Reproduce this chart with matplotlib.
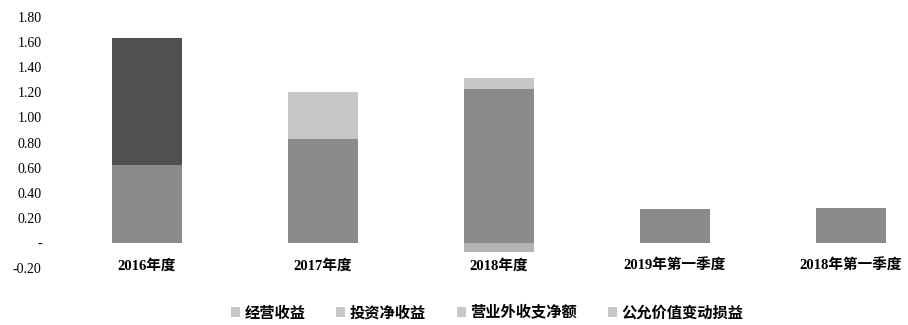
import numpy as np
import matplotlib.pyplot as plt
from matplotlib.patches import Patch

# 收益构成（单位：亿元）
categories = ["2016年度", "2017年度", "2018年度", "2019年第一季度", "2018年第一季度"]
series_names = ["经营收益", "投资净收益", "营业外收支净额", "公允价值变动损益"]
operating = [0.62, 0.83, 1.23, 0.27, 0.28]
investment = [1.01, 0.00, 0.00, 0.00, 0.00]
non_operating = [0.00, 0.00, -0.07, 0.00, 0.00]
fair_value = [0.00, 0.37, 0.08, 0.00, 0.00]
y_ticks = [-0.20, 0.0, 0.20, 0.40, 0.60, 0.80, 1.00, 1.20, 1.40, 1.60, 1.80]

colors = ["#8a8a8a", "#505050", "#b4b4b4", "#c6c6c6"]
serif_cjk = ["Liberation Serif", "Noto Sans CJK SC"]

fig = plt.figure(figsize=(9.08, 3.25), dpi=100)
ax = fig.add_axes([59 / 908, 1 - 268 / 325, 1 - 59 / 908, 251 / 325])

x = np.arange(len(categories))
pos_base = np.zeros(len(categories))
neg_base = np.zeros(len(categories))
for vals, col in zip([operating, investment, non_operating, fair_value], colors):
    vals = np.array(vals)
    bottoms = np.where(vals >= 0, pos_base, neg_base)
    ax.bar(x, vals, width=0.4, bottom=bottoms, color=col, edgecolor="none")
    pos_base += np.clip(vals, 0, None)
    neg_base += np.clip(vals, None, 0)

ax.set_xlim(-0.5, (908 - 147) / 176)
ax.set_ylim(-0.2, 1.8)
ax.set_yticks(y_ticks)
ax.set_yticklabels(["-" if v == 0 else f"{v:.2f}" for v in y_ticks],
                   family="Liberation Serif", fontsize=10)
ax.set_xticks(x)
ax.set_xticklabels(categories, family=serif_cjk, fontsize=10.5, fontweight="bold")
ax.tick_params(length=0)
ax.tick_params(axis="x", pad=-6.5)
ax.tick_params(axis="y", pad=12.5)
for s in ax.spines.values():
    s.set_visible(False)

handles = [Patch(facecolor="#c8c8c8", edgecolor="none") for _ in series_names]
fig.legend(handles, series_names, loc="center", bbox_to_anchor=(487 / 908, 1 - 313 / 325),
           ncol=4, frameon=False, handlelength=0.6, handleheight=0.6, handletextpad=0.3,
           columnspacing=2.0, prop={"family": serif_cjk, "size": 11, "weight": "bold"})

fig.savefig("out.png", dpi=100)
